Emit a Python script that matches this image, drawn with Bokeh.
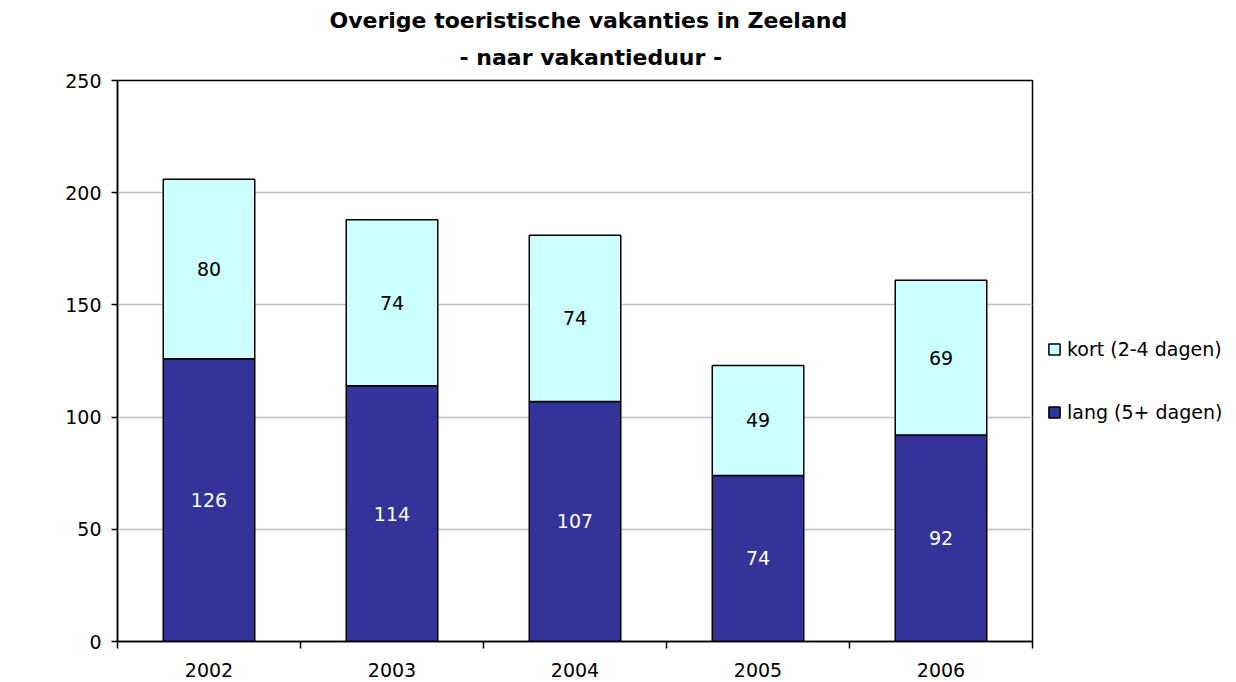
import math
from bokeh.plotting import figure
from bokeh.models import (ColumnDataSource, FixedTicker, Legend, LegendItem, Title,
                          LabelSet, Label)
from bokeh.core.properties import value
from bokeh.embed import file_html
from bokeh.resources import INLINE

years = ["2002", "2003", "2004", "2005", "2006"]
lang = [126, 114, 107, 74, 92]
kort = [80, 74, 74, 49, 69]
y_ticks = [0, 50, 100, 150, 200, 250]
title_line1 = "Overige toeristische vakanties in Zeeland"
title_line2 = "- naar vakantieduur -"
y_label = "aantal vakanties x 1.000"
series_names = ["kort (2-4 dagen)", "lang (5+ dagen)"]

FONT = "DejaVu Sans"
xs = list(range(len(years)))
total = [a + b for a, b in zip(lang, kort)]
src = ColumnDataSource(dict(
    x=xs, lang=lang, kort=kort, total=total,
    lang_mid=[v / 2 for v in lang],
    kort_mid=[a + b / 2 for a, b in zip(lang, kort)],
    lang_txt=[str(v) for v in lang], kort_txt=[str(v) for v in kort],
))

p = figure(frame_width=915, frame_height=561, x_range=(-0.5, len(years) - 0.5),
           y_range=(0, 250), output_backend="svg", toolbar_location=None,
           min_border_left=117, min_border_right=185, min_border_top=80,
           min_border_bottom=0)
p.background_fill_color = "white"
p.border_fill_color = "white"
p.outline_line_color = "black"
p.outline_line_width = 1.5

r_lang = p.vbar(x="x", bottom=0, top="lang", width=0.5, source=src,
                fill_color="#333399", line_color="black", line_width=1.5)
r_kort = p.vbar(x="x", bottom="lang", top="total", width=0.5, source=src,
                fill_color="#CCFFFF", line_color="black", line_width=1.5)

p.add_layout(LabelSet(x="x", y="lang_mid", text="lang_txt", source=src,
                      text_align="center", text_baseline="middle",
                      text_color="white", text_font=value(FONT), text_font_size="19px"))
p.add_layout(LabelSet(x="x", y="kort_mid", text="kort_txt", source=src,
                      text_align="center", text_baseline="middle",
                      text_color="black", text_font=value(FONT), text_font_size="19px"))

# x axis: labels at centers, ticks at category boundaries
p.xaxis.ticker = FixedTicker(ticks=xs, minor_ticks=[i - 0.5 for i in range(len(years) + 1)])
p.xaxis.major_label_overrides = {i: y for i, y in enumerate(years)}
p.xaxis.major_tick_line_color = None
p.xaxis.minor_tick_in = 0
p.xaxis.minor_tick_out = 7
p.xaxis.minor_tick_line_color = "black"
p.xaxis.minor_tick_line_width = 1.5
p.xaxis.major_label_standoff = 14

p.yaxis.ticker = FixedTicker(ticks=y_ticks)
p.yaxis.minor_tick_line_color = None
p.yaxis.major_tick_in = 0
p.yaxis.major_tick_out = 6
p.yaxis.major_label_standoff = 10

for ax in (p.xaxis, p.yaxis):
    ax.axis_line_color = "black"
    ax.axis_line_width = 1.5
    ax.major_tick_line_width = 1.5
    ax.major_label_text_font = FONT
    ax.major_label_text_font_size = "19px"
    ax.major_label_text_color = "black"

p.xgrid.grid_line_color = None
p.ygrid.grid_line_color = "#C0C0C0"
p.ygrid.grid_line_width = 1.5
p.ygrid.ticker = FixedTicker(ticks=y_ticks)

# y-axis title, placed near the top-left as in the reference (screen units from frame)
ylab = Label(x=-93, y=554, x_units="screen", y_units="screen", text=y_label,
             angle=math.pi / 2, text_align="right", text_baseline="middle",
             text_font=FONT, text_font_size="19px", text_color="black")
p.add_layout(ylab)

t2 = Title(text=title_line2, align="left", offset=342, text_font=FONT,
           text_font_size="22px", text_font_style="bold", text_color="black",
           standoff=21)
t1 = Title(text=title_line1, align="left", offset=212, text_font=FONT,
           text_font_size="22px", text_font_style="bold", text_color="black",
           standoff=0)
p.add_layout(t2, "above")
p.add_layout(t1, "above")

legend = Legend(items=[LegendItem(label=series_names[0], renderers=[r_kort]),
                       LegendItem(label=series_names[1], renderers=[r_lang])],
                location=(15, 218), orientation="vertical",
                glyph_width=14, glyph_height=14, label_height=20, spacing=41,
                padding=0, margin=0, border_line_color=None,
                background_fill_alpha=0, label_text_font=FONT,
                label_text_color="black",
                label_text_font_size="19px", label_standoff=6)
p.add_layout(legend, "right")

open("out.html", "w").write(file_html(p, INLINE))
